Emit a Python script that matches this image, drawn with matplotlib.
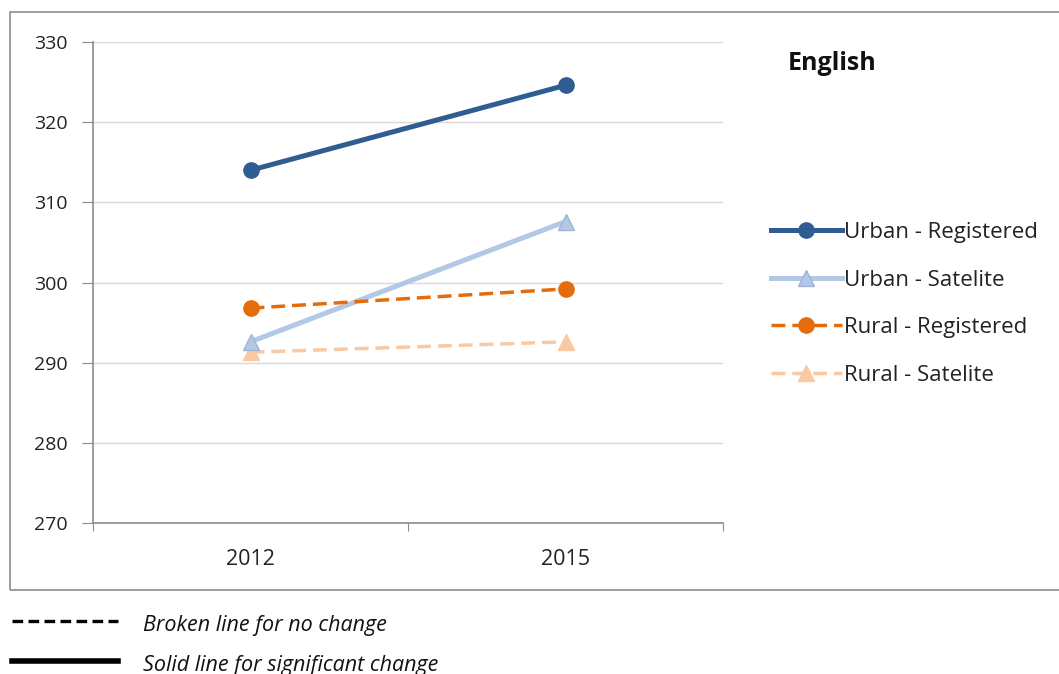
import matplotlib.pyplot as plt
from matplotlib.lines import Line2D
from matplotlib.patches import Rectangle

# Scores by year and group
years = ['2012', '2015']
urban_registered = [314.0, 324.6]
urban_satelite = [292.6, 307.6]
rural_registered = [296.8, 299.2]
rural_satelite = [291.3, 292.6]

plt.rcParams['font.family'] = ['Open Sans', 'DejaVu Sans']

fig = plt.figure(figsize=(10.59, 6.74), dpi=100)
ax = fig.add_axes([93 / 1059, 1 - 523 / 674, 630 / 1059, 481 / 674])

dashed = (0, (4, 2))
x = list(range(len(years)))
ax.plot(x, urban_registered, color='#2F5D92', lw=3.6, marker='o', ms=11,
        label='Urban - Registered', zorder=5)
ax.plot(x, urban_satelite, color='#B3C8E4', lw=3.6, marker='^', ms=12,
        markeredgecolor='#9DB5D8', label='Urban - Satelite', zorder=4)
ax.plot(x, rural_registered, color='#E46C0A', lw=2.5, ls=dashed,
        marker='o', ms=11, label='Rural - Registered', zorder=4)
ax.plot(x, rural_satelite, color='#F9C9A4', lw=2.5, ls=dashed,
        marker='^', ms=12, label='Rural - Satelite', zorder=3)

# Axes styling
ax.set_xlim(-0.5, len(years) - 0.5)
ax.set_ylim(270, 330)
ax.set_yticks(range(270, 331, 10))
ax.yaxis.grid(True, color='#D9D9D9', lw=1)
ax.set_axisbelow(True)
ax.set_xticks([-0.5, 0.5, 1.5])
ax.set_xticklabels([])
ax.set_xticks(x, minor=True)
ax.set_xticklabels(years, minor=True)
ax.tick_params(axis='x', which='major', length=6, color='#8C8C8C')
ax.tick_params(axis='x', which='minor', length=0, pad=19, labelsize=15.5,
               labelcolor='#222222')
ax.tick_params(axis='y', length=8, color='#8C8C8C', labelsize=14, pad=10,
               labelcolor='#222222')
for side in ['top', 'right']:
    ax.spines[side].set_visible(False)
for side in ['left', 'bottom']:
    ax.spines[side].set_color('#8C8C8C')
    ax.spines[side].set_linewidth(1.2)

# Legend and title on the right
fig.text(788 / 1059, 1 - 64 / 674, 'English', fontsize=18, fontweight='bold',
         va='center', ha='left', color='#111111')
fig.legend(loc='upper left', bbox_to_anchor=(762 / 1059, 1 - 213 / 674),
           frameon=False, fontsize=16, handlelength=3.2, handletextpad=0.1,
           labelspacing=1.2, borderaxespad=0, labelcolor='#222222')

# Outer chart frame
fig.patches.append(Rectangle((10 / 1059, 1 - 590 / 674), 1.1, 578 / 674,
                             transform=fig.transFigure, fill=False,
                             edgecolor='#8C8C8C', lw=1.2))

# Line-style key below the chart
fig.add_artist(Line2D([12 / 1059, 118 / 1059], [1 - 621 / 674, 1 - 621 / 674],
                      transform=fig.transFigure, color='black', lw=2.4,
                      ls=(0, (3.2, 1.6))))
fig.add_artist(Line2D([12 / 1059, 118 / 1059], [1 - 661 / 674, 1 - 661 / 674],
                      transform=fig.transFigure, color='black', lw=4))
fig.text(143 / 1059, 1 - 625 / 674, 'Broken line for no change', fontsize=15.5,
         style='italic', va='center', color='#111111')
fig.text(143 / 1059, 1 - 665 / 674, 'Solid line for significant change',
         fontsize=15.5, style='italic', va='center', color='#111111')

fig.savefig('out.png', dpi=100)
